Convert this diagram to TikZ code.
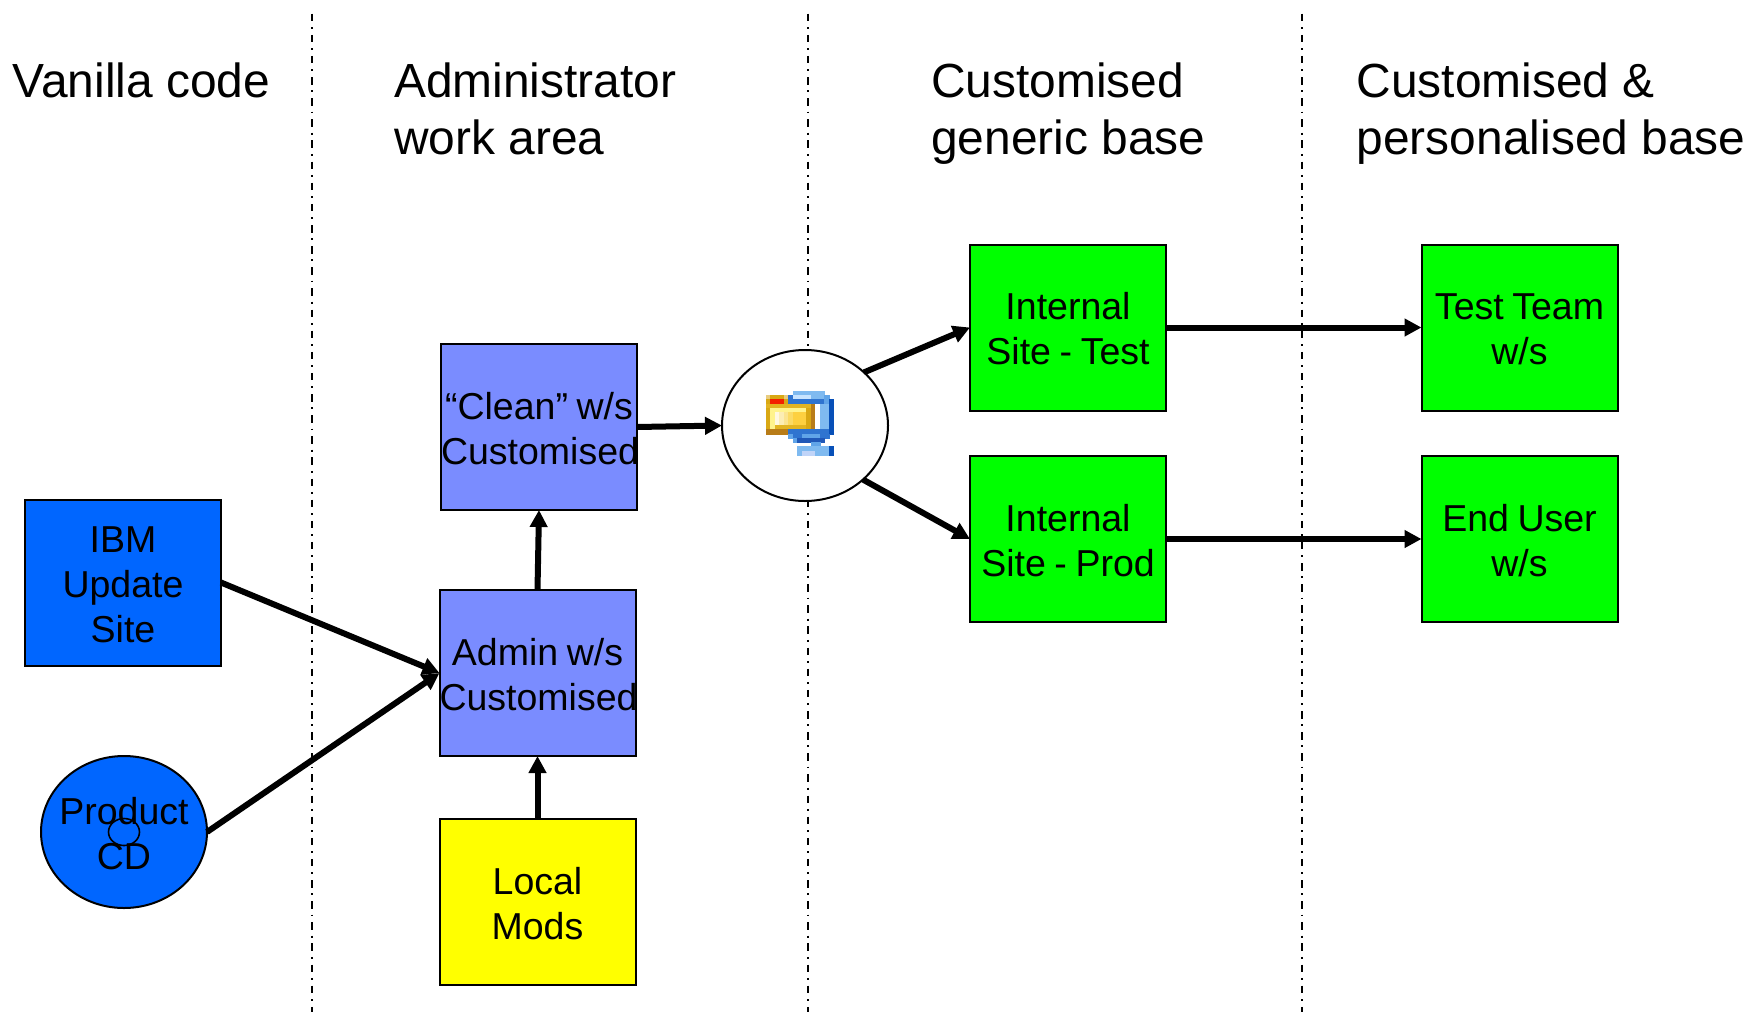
\documentclass[tikz,border=0pt]{standalone}
\usepackage{fontspec}
\setmainfont{Liberation Sans}
\usetikzlibrary{arrows.meta,shapes.geometric}
\definecolor{ibmblue}{HTML}{0066FF}
\definecolor{periw}{HTML}{7A8CFF}
\definecolor{brightgreen}{HTML}{00FF00}
\definecolor{brightyellow}{HTML}{FFFF00}
\definecolor{gl}{HTML}{E8CC80}
\definecolor{gd}{HTML}{D9A814}
\definecolor{gm}{HTML}{E2B422}
\definecolor{br}{HTML}{B87C18}
\definecolor{rd}{HTML}{F42000}
\definecolor{py}{HTML}{FFF38C}
\definecolor{ya}{HTML}{FFF8E0}
\definecolor{yb}{HTML}{FCEDB4}
\definecolor{yc}{HTML}{FBE490}
\definecolor{yd}{HTML}{FBDA64}
\definecolor{ye}{HTML}{FDD040}
\definecolor{bm}{HTML}{2F74D0}
\definecolor{bl}{HTML}{7FBAF0}
\definecolor{bp}{HTML}{C8E4FF}
\definecolor{bd}{HTML}{0850B8}
\definecolor{bk}{HTML}{2058B8}
\definecolor{bs}{HTML}{60A4E8}
\definecolor{bq}{HTML}{C0D4F8}
\newcommand\iconpx[4]{\fill[#4,draw=#4,line width=.3pt] ({766+#1*4.49},{391+#3*4.27}) rectangle ({766+(#2+1)*4.49},{391+(#3+1)*4.27});}
\tikzset{
  x=1pt,y=-1pt,
  labelfont/.style={font=\fontsize{37.5}{45}\selectfont},
  cellbox/.style={rectangle,draw=black,line width=2pt,inner sep=0pt,outer sep=0pt,minimum width=196pt,minimum height=166pt,text width=196pt,align=center,labelfont,execute at begin node={\spaceskip=8.6pt\rule{0pt}{29.5pt}}},
  roundbox/.style={ellipse,draw=black,line width=2pt,inner sep=0pt,outer sep=0pt,minimum width=166pt},
  flow/.style={line width=6pt,-{Triangle[length=17pt,width=17pt]}},
  divider/.style={line width=2pt,dash pattern=on 7.5pt off 5.85pt on 1.85pt off 5.93pt},
  heading/.style={anchor=north west,align=left,inner sep=0pt,font=\fontsize{47.9}{57}\selectfont}
}
\begin{document}
\begin{tikzpicture}
\path[use as bounding box,fill=white] (0,0) rectangle (1752,1012);
% dividers
\coordinate (d1t) at (312,13.7); \coordinate (d1b) at (312,1012);
\coordinate (d2t) at (808,13.7); \coordinate (d2b) at (808,1012);
\coordinate (d3t) at (1302,13.7); \coordinate (d3b) at (1302,1012);
\draw[divider] (d1t) -- (d1b);
\draw[divider] (d2t) -- (d2b);
\draw[divider] (d3t) -- (d3b);
% headings
\node[heading] (h1) at (12.5,63) {Vanilla code};
\node[heading] (h2) at (394,63) {Administrator\\work area};
\node[heading] (h3) at (931,63) {Customised\\generic base};
\node[heading] (h4) at (1356.5,63) {Customised \&\\personalised base};
% boxes
\node[cellbox,fill=ibmblue] (ibm) at (123,582.5) {IBM\\Update\\Site};
\node[roundbox,fill=ibmblue,minimum height=152pt] (cd) at (124,832) {};
\node[labelfont,align=center,inner sep=0pt] (cdtext) at (124,834) {Product\\CD};
\node[ellipse,draw=black,line width=1.6pt,inner sep=0pt,minimum width=31pt,minimum height=27pt] (hole) at (124,832) {};
\node[cellbox,fill=periw] (clean) at (539,427) {“Clean” w/s\\Customised};
\node[cellbox,fill=periw] (admin) at (537.5,673) {Admin w/s\\Customised};
\node[cellbox,fill=brightyellow] (local) at (537.5,902) {Local\\Mods};
\node[roundbox,fill=white,minimum height=151pt] (big) at (805,425.5) {};
\node[cellbox,fill=brightgreen] (it1) at (1068,327.5) {Internal\\Site - Test};
\node[cellbox,fill=brightgreen] (it2) at (1068,539) {Internal\\Site - Prod};
\node[cellbox,fill=brightgreen] (tt) at (1519.5,327.5) {Test Team\\w/s};
\node[cellbox,fill=brightgreen] (eu) at (1519.5,539) {End User\\w/s};
% connectors
\draw[flow] (ibm.east) -- (admin.west);
\draw[flow] (cd.east) -- (admin.west);
\draw[flow] (local.north) -- (admin.south);
\draw[flow] (admin.north) -- (clean.south);
\draw[flow] (clean.east) -- (big.west);
\draw[flow] (big.42.7) -- (it1.west);
\draw[flow] (big.-43.3) -- (it2.west);
\draw[flow] (it1.east) -- (tt.west);
\draw[flow] (it2.east) -- (eu.west);
% icon
\iconpx{6}{12}{0}{bl}
\iconpx{0}{0}{1}{gl}\iconpx{1}{3}{1}{gd}\iconpx{4}{4}{1}{gl}\iconpx{5}{5}{1}{bm}\iconpx{6}{9}{1}{bp}\iconpx{10}{12}{1}{bl}\iconpx{13}{13}{1}{bs}
\iconpx{0}{0}{2}{gd}\iconpx{1}{3}{2}{rd}\iconpx{4}{4}{2}{gd}\iconpx{5}{12}{2}{bm}\iconpx{13}{13}{2}{bs}\iconpx{14}{14}{2}{bd}
\iconpx{0}{9}{3}{gm}\iconpx{10}{10}{3}{br}\iconpx{11}{11}{3}{white}\iconpx{12}{13}{3}{bl}\iconpx{14}{14}{3}{bd}
\iconpx{0}{0}{4}{gd}\iconpx{1}{8}{4}{py}\iconpx{9}{9}{4}{gd}\iconpx{10}{10}{4}{br}\iconpx{11}{11}{4}{white}\iconpx{12}{13}{4}{bl}\iconpx{14}{14}{4}{bd}
\foreach \r in {5,6,7}{
\iconpx{0}{0}{\r}{gd}\iconpx{1}{1}{\r}{py}\iconpx{2}{2}{\r}{ya}\iconpx{3}{3}{\r}{yb}\iconpx{4}{4}{\r}{yc}\iconpx{5}{5}{\r}{yd}\iconpx{6}{8}{\r}{ye}\iconpx{9}{9}{\r}{gd}\iconpx{10}{10}{\r}{br}\iconpx{11}{11}{\r}{white}\iconpx{12}{13}{\r}{bl}\iconpx{14}{14}{\r}{bd}
}
\iconpx{0}{0}{8}{gd}\iconpx{1}{1}{8}{py}\iconpx{2}{8}{8}{gm}\iconpx{9}{9}{8}{gd}\iconpx{10}{10}{8}{br}\iconpx{11}{11}{8}{white}\iconpx{12}{13}{8}{bl}\iconpx{14}{14}{8}{bd}
\iconpx{0}{4}{9}{br}\iconpx{5}{13}{9}{bm}\iconpx{14}{14}{9}{bd}
\iconpx{5}{5}{10}{bs}\iconpx{6}{7}{10}{bm}\iconpx{8}{11}{10}{bs}\iconpx{12}{13}{10}{bm}
\iconpx{6}{6}{11}{bs}\iconpx{7}{12}{11}{bk}
\iconpx{10}{11}{12}{bs}
\iconpx{7}{13}{13}{bl}\iconpx{14}{14}{13}{bd}
\iconpx{7}{7}{14}{bl}\iconpx{8}{10}{14}{bq}\iconpx{11}{13}{14}{bl}\iconpx{14}{14}{14}{bd}
\end{tikzpicture}
\end{document}
